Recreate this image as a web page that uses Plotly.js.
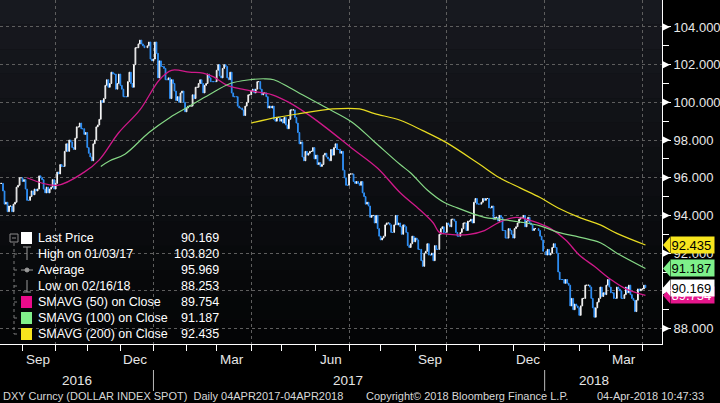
<!DOCTYPE html>
<html><head><meta charset="utf-8">
<script src="https://cdn.plot.ly/plotly-3.0.1.min.js"></script>
<style>html,body{margin:0;padding:0;background:#000;}#chart{width:720px;height:403px;}</style>
</head><body><div id="chart"></div>
<script>
// ---- Daily closes, one array per month ----
const c2016_08 = [95.7,95.7,95.3,94.6,94.7,94.2,94.5,94.5,94.2,94.6,94.7,95.5,95.6,96.0,96.0];
const c2016_09 = [95.8,95.9,95.4,94.8,94.8,95.0,95.3,95.1,95.4,95.3,95.4,96.1,96.0,95.9,95.4,95.2,95.5,95.2,95.4,95.5,95.9,95.4];
const c2016_10 = [95.7,96.3,96.2,96.7,96.6,96.6,97.4,97.8,97.4,98.0,97.9,97.6,97.5,98.1,98.7,98.7,98.9,98.6,98.6,98.3,98.4];
const c2016_11 = [97.6,97.3,97.1,96.9,97.8,98.0,98.7,98.8,99.1,100.1,100.0,100.2,100.9,101.2,100.8,101.0,101.6,101.5,101.5,100.7,101.0,101.5];
const c2016_12 = [100.9,100.7,100.3,100.3,100.3,101.1,101.6,101.0,100.8,102.0,102.9,102.9,103.1,103.3,103.1,103.0,102.9,103.0,103.2,102.3,102.2];
const c2017_01 = [102.3,103.2,102.6,101.3,102.2,101.9,101.9,101.8,101.2,101.2,101.3,100.2,101.2,101.0,100.6,100.1,100.3,100.0,100.5,100.6,100.0,99.5];
const c2017_02 = [99.7,99.8,99.8,99.8,100.4,100.2,100.8,100.8,101.0,101.2,101.0,100.5,100.9,101.0,101.5,101.3,101.1,101.1,101.1,101.1];
const c2017_03 = [101.7,102.0,101.4,101.3,101.8,102.0,101.9,101.3,101.2,101.6,100.5,100.3,100.3,100.3,99.8,99.7,99.7,99.6,99.3,99.8,100.0,100.4,100.4];
const c2017_04 = [100.6,100.7,100.5,100.7,101.1,101.1,100.7,100.4,100.5,100.5,100.3,99.7,99.8,99.7,99.8,99.1,99.0,99.2,99.2,99.0];
const c2017_05 = [99.1,98.9,99.2,98.8,98.6,99.1,99.6,99.6,99.6,99.2,98.9,98.4,97.8,97.9,97.1,96.9,97.4,97.2,97.3,97.4,97.4,97.6,97.0];
const c2017_06 = [97.2,96.7,96.8,96.6,96.7,97.2,97.3,97.1,97.0,96.9,97.5,97.2,97.6,97.8,97.5,97.5,97.3,97.4,96.4,96.0,95.6,95.6];
const c2017_07 = [96.2,96.2,96.2,95.8,95.7,95.8,95.7,95.6,95.8,95.2,95.0,94.6,94.7,94.5,93.9,94.0,94.0,93.6,94.0,93.3,92.9];
const c2017_08 = [92.7,92.8,92.9,93.5,93.6,93.6,93.5,93.1,93.1,93.5,94.0,93.5,93.6,93.4,93.0,93.5,93.4,93.1,92.4,92.3,92.5,92.9,92.6];
const c2017_09 = [92.8,92.7,92.2,92.2,91.6,91.3,92.0,92.1,92.5,91.9,91.9,92.0,91.6,92.4,92.2,92.2,93.0,93.3,93.4,93.1,93.1];
const c2017_10 = [93.6,93.5,93.4,93.8,93.8,93.7,93.1,92.9,92.9,93.1,93.3,93.6,93.6,93.2,93.7,93.7,93.8,93.6,94.7,94.9,94.6,94.6];
const c2017_11 = [94.6,94.7,94.9,94.8,94.9,94.9,94.4,94.4,94.5,93.8,93.9,93.9,93.7,94.0,93.9,93.2,93.2,92.8,92.8,93.3,93.2,93.0];
const c2017_12 = [92.8,93.3,93.4,93.6,93.8,93.9,93.9,94.0,93.4,93.7,93.9,93.6,93.5,93.2,93.3,93.3,93.2,92.9,92.7,92.1];
const c2018_01 = [91.9,92.2,91.9,92.0,92.3,92.5,92.3,92.0,91.0,90.6,90.6,90.6,90.4,90.6,90.4,90.3,89.2,89.6,89.0,89.3,89.2,89.1];
const c2018_02 = [88.7,89.2,89.6,89.6,90.3,90.3,90.3,90.2,89.6,89.1,88.6,89.1,89.4,89.6,90.2,89.7,89.9,89.8,90.3,90.6];
const c2018_03 = [90.2,89.9,89.9,89.6,89.6,90.2,90.1,90.0,89.6,89.6,89.8,90.2,89.9,90.3,89.8,89.6,89.5,88.9,89.5,90.1,90.0,90.1];
const c2018_04 = [90.1,90.3,90.169];
const holidays = ['2016-12-26','2017-12-25','2018-01-01'];

// ---- Moving averages ----
const sma50Dates = ['2016-09-06','2016-10-04','2016-10-28','2016-11-11','2016-11-30','2016-12-20','2017-01-06','2017-01-18','2017-02-03','2017-02-16','2017-02-27','2017-03-10','2017-03-24','2017-04-13','2017-04-21','2017-05-08','2017-05-24','2017-06-09','2017-07-06','2017-07-28','2017-08-18','2017-09-06','2017-09-19','2017-09-25','2017-10-04','2017-10-23','2017-11-06','2017-11-20','2017-12-05','2017-12-20','2018-01-05','2018-01-19','2018-02-01','2018-02-15','2018-03-02','2018-03-16','2018-04-04'];
const sma50 = [96.0,95.6,96.3,96.95,98.4,99.6,101.2,101.7,101.6,101.55,101.35,100.9,100.7,100.5,100.4,100.0,99.4,98.7,97.5,96.5,95.2,94.3,93.6,93.1,93.0,93.0,93.2,93.65,93.9,93.7,93.3,92.7,91.9,91.3,90.6,90.1,89.754];
const sma100Dates = ['2016-11-14','2016-11-22','2016-12-06','2016-12-28','2017-01-17','2017-02-03','2017-02-22','2017-03-14','2017-03-31','2017-04-14','2017-04-24','2017-05-08','2017-05-19','2017-06-09','2017-07-05','2017-07-26','2017-08-18','2017-08-29','2017-09-13','2017-09-28','2017-10-11','2017-10-25','2017-11-06','2017-11-20','2017-12-08','2017-12-27','2018-01-12','2018-02-01','2018-02-21','2018-03-08','2018-04-04'];
const sma100 = [96.6,96.9,97.25,98.4,99.2,99.8,100.4,101.0,101.2,101.25,101.2,100.8,100.4,99.75,98.95,97.9,96.7,96.25,95.35,94.7,94.4,94.1,93.9,93.8,93.65,93.45,93.1,92.85,92.55,92.0,91.187];
const sma200Dates = ['2017-04-03','2017-04-26','2017-05-17','2017-06-16','2017-07-12','2017-07-26','2017-08-18','2017-09-08','2017-10-02','2017-11-01','2017-11-20','2017-12-08','2017-12-27','2018-01-12','2018-02-01','2018-02-21','2018-03-08','2018-04-04'];
const sma200 = [98.9,99.2,99.4,99.65,99.65,99.4,99.05,98.5,97.85,96.7,96.0,95.45,94.95,94.4,93.9,93.5,93.05,92.435];

// ---- Axis labels / legend text ----
const yTicks = [88,90,92,94,96,98,100,102,104];
const yMinor = [89,91,93,95,97,99,101,103];
const monthLabels = ['Sep','Dec','Mar','Jun','Sep','Dec','Mar'];
const monthLabelDates = ['2016-09-15','2016-12-15','2017-03-15','2017-06-15','2017-09-15','2017-12-15','2018-03-15'];
const yearLabels = ['2016','2017','2018'];
const legendNames = ['Last Price','High on 01/03/17','Average','Low on 02/16/18','SMAVG (50) on Close','SMAVG (100) on Close','SMAVG (200) on Close'];
const legendValues = ['90.169','103.820','95.969','88.253','89.754','91.187','92.435'];

const closeMonths = [[2016,8,11,c2016_08],[2016,9,1,c2016_09],[2016,10,1,c2016_10],[2016,11,1,c2016_11],[2016,12,1,c2016_12],
 [2017,1,1,c2017_01],[2017,2,1,c2017_02],[2017,3,1,c2017_03],[2017,4,1,c2017_04],[2017,5,1,c2017_05],[2017,6,1,c2017_06],
 [2017,7,1,c2017_07],[2017,8,1,c2017_08],[2017,9,1,c2017_09],[2017,10,1,c2017_10],[2017,11,1,c2017_11],[2017,12,1,c2017_12],
 [2018,1,1,c2018_01],[2018,2,1,c2018_02],[2018,3,1,c2018_03],[2018,4,1,c2018_04]];

const dates=[], closes=[];
for (const [yr,mo,d0,arr] of closeMonths){
  let d=d0, i=0;
  while(i<arr.length){
    const dt=new Date(Date.UTC(yr,mo-1,d));
    if(dt.getUTCMonth()!==mo-1) break;
    const wd=dt.getUTCDay(); const s=dt.toISOString().slice(0,10);
    if(wd!==0 && wd!==6 && !holidays.includes(s)){ dates.push(s); closes.push(arr[i]); i++; }
    d++;
  }
}
const opens = closes.map((c,i)=> i===0 ? c : closes[i-1]);
const highs = closes.map((c,i)=> Math.max(c, opens[i]));
const lows = closes.map((c,i)=> Math.min(c, opens[i]));

const W=662, H=344;
const px = x => x/W, py = y => 1 - y/H;
const SANS = '"Liberation Sans",Arial,sans-serif';

const traces = [
 {type:'candlestick', x:dates, open:opens, high:highs, low:lows, close:closes,
  increasing:{line:{color:'#ffffff',width:1}, fillcolor:'#0b0c0f'},
  decreasing:{line:{color:'#2f8ff5',width:1}, fillcolor:'#2f8ff5'},
  whiskerwidth:0, hoverinfo:'skip', showlegend:false},
 {type:'scatter', mode:'lines', x:sma50Dates, y:sma50, line:{color:'#d0198a',width:1.3,shape:'spline'}, hoverinfo:'skip', showlegend:false},
 {type:'scatter', mode:'lines', x:sma100Dates, y:sma100, line:{color:'#86d886',width:1.2,shape:'spline'}, hoverinfo:'skip', showlegend:false},
 {type:'scatter', mode:'lines', x:sma200Dates, y:sma200, line:{color:'#e8dc22',width:1.2,shape:'spline'}, hoverinfo:'skip', showlegend:false}
];

const shapes = [];
const nb = 14;
for (let i=0;i<nb;i++){
  const t=i/(nb-1); const c=Math.round(23 - 19*t), c2=Math.round(25-20*t), c3=Math.round(31-25*t);
  shapes.push({type:'rect', xref:'paper', yref:'paper', x0:0, x1:1, y0:1-(i+1)/nb, y1:1-i/nb, layer:'below', line:{width:0}, fillcolor:`rgb(${c},${c2},${c3})`});
}
for (const v of yTicks){
  shapes.push({type:'path', xref:'paper', xsizemode:'pixel', xanchor:1, yref:'y', ysizemode:'pixel', yanchor:v,
    path:'M0,4 L8,0 L0,-4 Z', fillcolor:'#ffffff', line:{width:0}});
}
for (const d of ['2017-01-02','2018-01-01']){
  shapes.push({type:'line', xref:'x', yref:'paper', x0:d, x1:d, y0:py(370), y1:py(391), line:{color:'#bbbbbb',width:1}});
}
shapes.push({type:'rect', xref:'paper', yref:'paper', x0:px(10), x1:px(18), y0:py(242), y1:py(234), line:{color:'#8a8a8a',width:1}});
shapes.push({type:'line', xref:'paper', yref:'paper', x0:px(12), x1:px(16), y0:py(238), y1:py(238), line:{color:'#8a8a8a',width:1}});
shapes.push({type:'line', xref:'paper', yref:'paper', x0:px(14), x1:px(14), y0:py(243), y1:py(334), line:{color:'#7a7a7a',width:1,dash:'dot'}});
[254,270,286,302,318,334].forEach(y=>shapes.push({type:'line', xref:'paper', yref:'paper', x0:px(14), x1:px(20), y0:py(y), y1:py(y), line:{color:'#7a7a7a',width:1,dash:'dot'}}));
[['#ffffff',238],['#ec0b8c',302],['#80f08a',318],['#f7e51e',334]].forEach(([c,y])=>
  shapes.push({type:'rect', xref:'paper', yref:'paper', x0:px(21), x1:px(32), y0:py(y+6), y1:py(y-6), line:{width:0}, fillcolor:c}));
const gi = {color:'#9a9a9a',width:1};
shapes.push({type:'line', xref:'paper', yref:'paper', x0:px(23), x1:px(31), y0:py(247), y1:py(247), line:gi});
shapes.push({type:'line', xref:'paper', yref:'paper', x0:px(27), x1:px(27), y0:py(247), y1:py(260), line:gi});
shapes.push({type:'line', xref:'paper', yref:'paper', x0:px(21), x1:px(33), y0:py(270), y1:py(270), line:gi});
shapes.push({type:'circle', xref:'paper', yref:'paper', x0:px(25), x1:px(29), y0:py(272), y1:py(268), line:gi, fillcolor:'#9a9a9a'});
shapes.push({type:'line', xref:'paper', yref:'paper', x0:px(27), x1:px(27), y0:py(280), y1:py(292), line:gi});
shapes.push({type:'line', xref:'paper', yref:'paper', x0:px(23), x1:px(31), y0:py(292), y1:py(292), line:gi});

const annotations = [];
monthLabels.forEach((m,i)=>annotations.push({xref:'x', yref:'paper', x:monthLabelDates[i], y:py(359), text:m, showarrow:false, xanchor:'center', yanchor:'middle', font:{family:SANS,size:13.5,color:'#e6e6e6'}}));
[[77,0],[348,1],[594,2]].forEach(([x,i])=>annotations.push({xref:'paper', yref:'paper', x:px(x), y:py(380), text:yearLabels[i], showarrow:false, xanchor:'center', yanchor:'middle', font:{family:SANS,size:13.5,color:'#e6e6e6'}}));
annotations.push({xref:'paper', yref:'paper', x:px(1), y:py(396), text:'DXY Curncy (DOLLAR INDEX SPOT)  Daily 04APR2017-04APR2018', showarrow:false, xanchor:'left', yanchor:'middle', font:{family:SANS,size:11,color:'#d8d8d8'}});
annotations.push({xref:'paper', yref:'paper', x:px(364), y:py(396), text:'Copyright\u00a9 2018 Bloomberg Finance L.P.', showarrow:false, xanchor:'left', yanchor:'middle', font:{family:SANS,size:11,color:'#d8d8d8'}});
annotations.push({xref:'paper', yref:'paper', x:px(706), y:py(396), text:'04-Apr-2018 10:47:33', showarrow:false, xanchor:'right', yanchor:'middle', font:{family:SANS,size:11,color:'#d8d8d8'}});
[238,254,270,286,302,318,334].forEach((y,i)=>{
  annotations.push({xref:'paper', yref:'paper', x:px(36), y:py(y), text:legendNames[i], showarrow:false, xanchor:'left', yanchor:'middle', font:{family:SANS,size:12.5,color:'#ffffff'}});
  annotations.push({xref:'paper', yref:'paper', x:px(221), y:py(y), text:legendValues[i], showarrow:false, xanchor:'right', yanchor:'middle', font:{family:SANS,size:12.5,color:'#ffffff'}});
});
const tags = [[89.754,'#e6168c','#ffffff'],[92.435,'#f7e51e','#000000'],[91.187,'#7ef08a','#000000'],[90.169,'#ffffff','#000000']];
tags.forEach(([v,bg,fc])=>{
  shapes.push({type:'path', xref:'paper', xsizemode:'pixel', xanchor:1, yref:'y', ysizemode:'pixel', yanchor:v, path:'M1,0 L8,8 L8,-8 Z', fillcolor:bg, line:{width:0}});
  annotations.push({xref:'paper', yref:'y', x:1, xshift:8, y:v, text:v.toFixed(3), showarrow:false, xanchor:'left', yanchor:'middle',
    bgcolor:bg, width:42, height:15, borderpad:0.5, align:'left', font:{family:SANS,size:13,color:fc}});
});

const layout = {
  width:720, height:403, margin:{l:0,r:58,t:0,b:59},
  paper_bgcolor:'#000000', plot_bgcolor:'#0c0d11', showlegend:false,
  xaxis:{type:'date', rangebreaks:[{bounds:['sat','mon']}], range:['2016-08-11','2018-04-19'], rangeslider:{visible:false},
    tickmode:'array', tickvals:['2016-10-03','2017-01-02','2017-04-03','2017-07-03','2017-10-02','2018-01-01','2018-04-02'],
    showticklabels:false, showgrid:true, gridcolor:'#5e5e5e', griddash:'dot', gridwidth:1,
    ticks:'outside', ticklen:6, tickcolor:'#ffffff', showline:true, linecolor:'#ffffff', linewidth:1, zeroline:false,
    minor:{tickmode:'array', tickvals:['2016-09-01','2016-11-01','2016-12-01','2017-02-01','2017-03-01','2017-05-01','2017-06-01','2017-08-01','2017-09-01','2017-11-01','2017-12-01','2018-02-01','2018-03-01'],
      ticks:'outside', ticklen:6, tickcolor:'#ffffff', showgrid:false}},
  yaxis:{side:'right', range:[87.18,105.43], tickmode:'array', tickvals:yTicks, ticktext:yTicks.map(v=>v.toFixed(3)),
    showgrid:true, gridcolor:'#5e5e5e', griddash:'dot', ticks:'outside', ticklen:8, tickcolor:'#ffffff',
    showline:true, linecolor:'#ffffff', linewidth:1, zeroline:false,
    tickfont:{family:SANS,size:13,color:'#e8e8e8'},
    minor:{tickmode:'array', tickvals:yMinor, ticks:'outside', ticklen:6, tickcolor:'#ffffff', showgrid:false}},
  shapes, annotations
};
Plotly.newPlot('chart', traces, layout, {staticPlot:true, displayModeBar:false});
</script></body></html>
